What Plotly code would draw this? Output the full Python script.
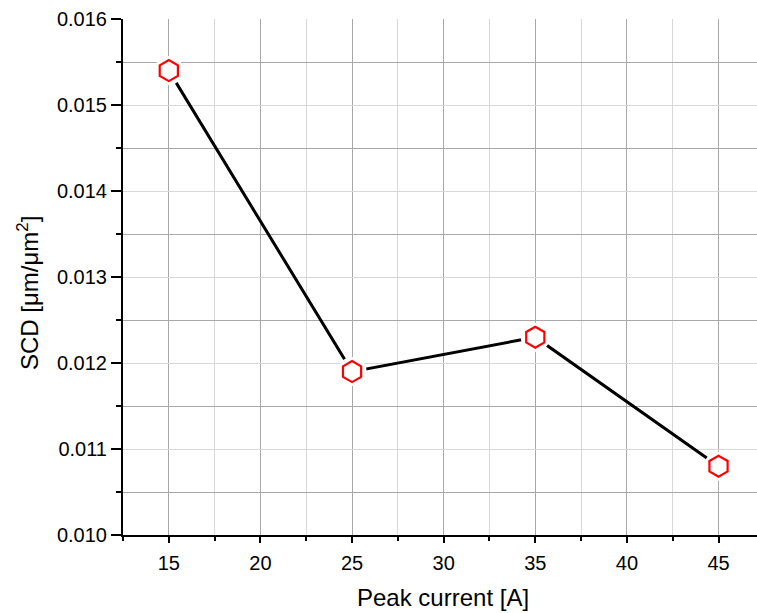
import plotly.graph_objects as go

peak_current = [15, 25, 35, 45]
scd = [0.0154, 0.0119, 0.0123, 0.0108]

x_title = "Peak current [A]"
y_title = "SCD [μm/μm<sup>2</sup>]"

FONT = "Arial, Liberation Sans, sans-serif"

fig = go.Figure()
# connecting line
fig.add_trace(go.Scatter(x=peak_current, y=scd, mode="lines",
                         line=dict(color="black", width=3), hoverinfo="skip"))
# white mask to create gaps between the line and the markers
fig.add_trace(go.Scatter(x=peak_current, y=scd, mode="markers",
                         marker=dict(symbol="circle", size=29, color="white",
                                     line=dict(width=0)), hoverinfo="skip"))
# red open hexagon markers
fig.add_trace(go.Scatter(x=peak_current, y=scd, mode="markers",
                         marker=dict(symbol="hexagon", size=21, color="white",
                                     line=dict(color="#ff0000", width=2.2))))

fig.update_layout(
    width=757, height=613,
    margin=dict(l=123, r=0, t=19, b=78),
    paper_bgcolor="white", plot_bgcolor="white",
    showlegend=False,
    font=dict(family=FONT, color="black"),
)
fig.update_xaxes(
    range=[12.5, 47.1], tick0=15, dtick=5,
    showline=True, linecolor="black", linewidth=2,
    ticks="outside", ticklen=6, tickwidth=2, tickcolor="black",
    tickfont=dict(size=20), ticklabelstandoff=3,
    showgrid=True, gridcolor="#a8a8a8", gridwidth=1,
    minor=dict(dtick=2.5, tick0=12.5, showgrid=True, gridcolor="#d8d8d8",
               ticks="outside", ticklen=4, tickwidth=2, tickcolor="black"),
    zeroline=False,
)
fig.update_yaxes(
    range=[0.010, 0.016], tick0=0.010, dtick=0.001, tickformat=".3f",
    showline=True, linecolor="black", linewidth=2,
    ticks="outside", ticklen=10, tickwidth=2, tickcolor="black",
    tickfont=dict(size=20),
    showgrid=True, gridcolor="#d8d8d8", gridwidth=1,
    minor=dict(dtick=0.0005, tick0=0.010, showgrid=True, gridcolor="#a8a8a8",
               ticks="outside", ticklen=5, tickwidth=2, tickcolor="black"),
    zeroline=False,
)

fig.add_annotation(text=x_title, xref="paper", yref="paper", x=0.5, y=0,
                   xanchor="center", yanchor="middle", yshift=-62, xshift=3,
                   showarrow=False, font=dict(size=24))
fig.add_annotation(text=y_title, xref="paper", yref="paper", x=0, y=0.5,
                   xanchor="center", yanchor="middle", xshift=-95, yshift=-16,
                   textangle=-90, showarrow=False, font=dict(size=24))

fig.write_html("out.html")
